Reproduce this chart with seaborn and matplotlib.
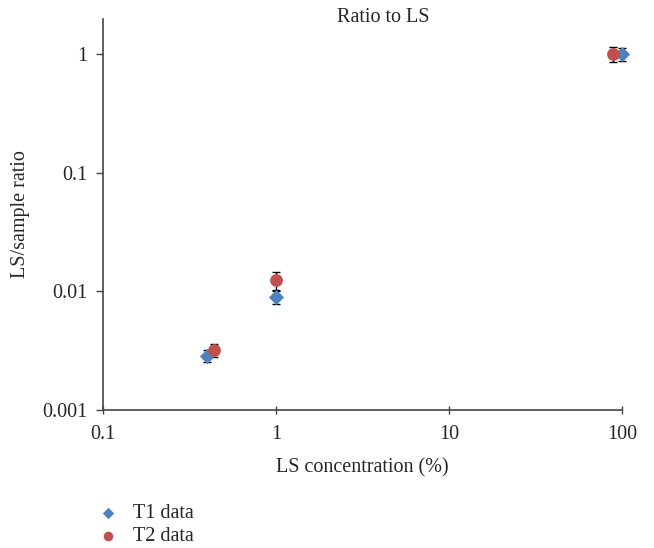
import matplotlib
matplotlib.use("Agg")
import matplotlib.pyplot as plt
import seaborn as sns
import pandas as pd
import numpy as np

series = ["T1 data", "T2 data"]
t1_x = [0.40, 1.0, 100.0]
t1_y = [0.00285, 0.0089, 1.0]
t1_err_lo = [0.00033, 0.0011, 0.13]
t1_err_hi = [0.00033, 0.0011, 0.13]
t2_x = [0.44, 1.0, 89.0]
t2_y = [0.0032, 0.0124, 1.0]
t2_err_lo = [0.0004, 0.0021, 0.15]
t2_err_hi = [0.0004, 0.0021, 0.15]
x_ticks = [0.1, 1, 10, 100]
x_tick_labels = ["0.1", "1", "10", "100"]
y_ticks = [0.001, 0.01, 0.1, 1]
y_tick_labels = ["0.001", "0.01", "0.1", "1"]

sns.set_theme(style="white")
plt.rcParams['font.family'] = ['Liberation Serif', 'DejaVu Serif']

df = pd.DataFrame({
    "x": t1_x + t2_x,
    "y": t1_y + t2_y,
    "series": [series[0]] * len(t1_x) + [series[1]] * len(t2_x),
})
colors = {"T1 data": "#4F81BD", "T2 data": "#C0504D"}

fig = plt.figure(figsize=(6.54, 5.48), dpi=100)
ax = fig.add_axes([103/654, 1 - 410/548, (622-103)/654, (410-19)/548])

for xs, ys, lo, hi in [(t1_x, t1_y, t1_err_lo, t1_err_hi), (t2_x, t2_y, t2_err_lo, t2_err_hi)]:
    eb = ax.errorbar(xs, ys, yerr=[lo, hi], fmt="none", ecolor="black",
                     elinewidth=1.0, capsize=3, capthick=1.0, zorder=2)
    for art in eb.lines[1] + eb.lines[2]:
        art.set_clip_on(False)

for name, mk, sz in [("T1 data", "D", 60), ("T2 data", "o", 85)]:
    sub = df[df["series"] == name]
    sns.scatterplot(data=sub, x="x", y="y", color=colors[name], marker=mk, s=sz,
                    linewidth=0, ax=ax, zorder=3, label=name)
for coll in ax.collections:
    coll.set_clip_on(False)

ax.set_xscale("log")
ax.set_yscale("log")
ax.set_xlim(0.1, 100)
ax.set_ylim(0.001, 1.97)
ax.set_xticks(x_ticks)
ax.set_xticklabels(x_tick_labels)
ax.set_yticks(y_ticks)
ax.set_yticklabels(y_tick_labels)
ax.minorticks_off()
ax.tick_params(axis="x", direction="inout", length=6, width=1, color="#444444",
               labelsize=14.5, pad=8, bottom=True)
ax.tick_params(axis="y", direction="out", length=5, width=1, color="#444444",
               labelsize=14.5, pad=6, left=True)
for s in ["top", "right"]:
    ax.spines[s].set_visible(False)
for s in ["left", "bottom"]:
    ax.spines[s].set_color("#444444")
    ax.spines[s].set_linewidth(1.2)

ax.set_xlabel("LS concentration (%)", fontsize=14.5, labelpad=10)
ax.set_ylabel("LS/sample ratio", fontsize=14.5, labelpad=9)
fig.text(383/654, 1 - 18/548, "Ratio to LS", ha="center", va="center", fontsize=14.5)

ax.legend(loc="upper left", bbox_to_anchor=(-0.035, -0.22), frameon=False,
          fontsize=14.5, handletextpad=0.5, labelspacing=0.2, markerscale=0.75,
          borderaxespad=0, handlelength=1.5)

fig.savefig("out.png", dpi=100)
